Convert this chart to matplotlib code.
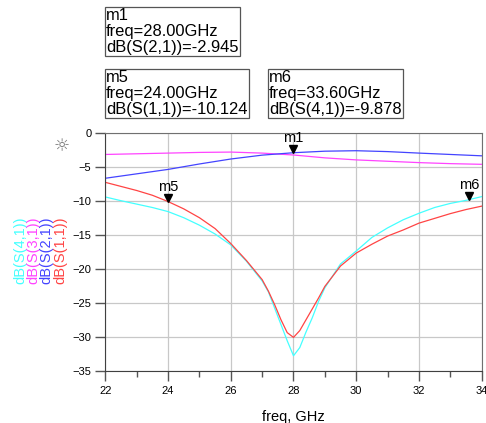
import numpy as np
import matplotlib
matplotlib.use("Agg")
import matplotlib.pyplot as plt
import matplotlib.transforms as mtransforms

plt.rcParams['font.family'] = ['Liberation Sans', 'DejaVu Sans']

# dados
freq_top = [22, 23, 24, 25, 26, 27, 28, 29, 30, 31, 32, 33, 34]
s21 = [-6.7, -6.05, -5.4, -4.6, -3.87, -3.3, -2.945, -2.72, -2.65, -2.78, -3.0, -3.2, -3.4]
s31 = [-3.2, -3.1, -3.0, -2.9, -2.85, -3.0, -3.28, -3.7, -4.0, -4.2, -4.4, -4.55, -4.65]

freq = [22, 22.5, 23, 23.5, 24, 24.5, 25, 25.5, 26, 26.5, 27, 27.2, 27.4, 27.6, 27.8,
        28, 28.2, 28.4, 28.6, 28.8, 29, 29.5, 30, 30.5, 31, 31.5, 32, 32.5, 33, 33.5, 34]
s11 = [-7.3, -7.9, -8.5, -9.2, -10.124, -11.2, -12.5, -14.1, -16.3, -18.8, -21.6, -23.3,
       -25.3, -27.5, -29.4, -30.1, -29.1, -27.5, -25.9, -24.3, -22.6, -19.6, -17.7,
       -16.4, -15.2, -14.3, -13.3, -12.6, -11.9, -11.3, -10.8]
s41 = [-9.45, -10.0, -10.5, -11.0, -11.6, -12.5, -13.6, -14.9, -16.5, -18.9, -21.8, -23.4,
       -25.8, -28.2, -30.6, -32.8, -31.6, -29.3, -27.2, -24.8, -22.8, -19.3, -17.4,
       -15.4, -14.0, -12.8, -11.85, -11.0, -10.4, -9.95, -9.4]

# marcadores: nome, freq, valor, texto
marcadores = [
    ("m1", 28.0, -2.945, "m1\nfreq=28.00GHz\ndB(S(2,1))=-2.945"),
    ("m5", 24.0, -10.124, "m5\nfreq=24.00GHz\ndB(S(1,1))=-10.124"),
    ("m6", 33.6, -9.878, "m6\nfreq=33.60GHz\ndB(S(4,1))=-9.878"),
]

fig = plt.figure(figsize=(4.86, 4.23), dpi=100)
ax = fig.add_axes([0.2167, 0.1236, 0.7744, 0.5627])

ax.plot(freq, s41, color='#44ffff', lw=0.9)
ax.plot(freq_top, s31, color='#ff44ff', lw=0.9)
ax.plot(freq_top, s21, color='#4444ff', lw=0.9)
ax.plot(freq, s11, color='#ff4444', lw=0.9)

ax.set_xlim(22, 34)
ax.set_ylim(-35, 0)
ax.set_xticks(np.arange(22, 35, 2))
ax.set_xticks(np.arange(23, 34, 2), minor=True)
ax.set_yticks(np.arange(-35, 1, 5))
ax.grid(True, which='major', color='#c8c8c8', lw=0.9)
ax.tick_params(which='major', direction='out', length=7, width=1, color='#555555',
               labelsize=8, pad=3)
ax.tick_params(which='minor', direction='out', length=4, width=1, color='#555555')
ax.tick_params(axis='x', pad=4)
for s in ax.spines.values():
    s.set_color('#707070')
for s in ['left', 'bottom']:
    ax.spines[s].set_color('#404040')

ax.set_xlabel("freq, GHz", fontsize=10.5, labelpad=10)

# rotulos do eixo y coloridos
cores = ['#44ffff', '#ff44ff', '#4444ff', '#ff4444']
rotulos = ['dB(S(4,1))', 'dB(S(3,1))', 'dB(S(2,1))', 'dB(S(1,1))']
for i in range(4):
    fig.text((20 + 13.3 * i) / 486, 1 - 250 / 423, rotulos[i], color=cores[i],
             rotation=90, ha='center', va='center', fontsize=10.5)

fig.text(62 / 486, 1 - 146 / 423, "\u263c", color='#777777', ha='center', va='center',
         fontsize=13, family='DejaVu Sans')

# marcadores no grafico
for nome, f, v, txt in marcadores:
    tri = mtransforms.offset_copy(ax.transData, fig=fig, x=0, y=4, units='dots')
    ax.plot([f], [v], marker='v', color='black', ms=6, transform=tri, clip_on=False)
    ax.annotate(nome, (f, v), xytext=(0, 8), textcoords='offset pixels',
                ha='center', va='bottom', fontsize=10.5, annotation_clip=False)

# caixas de texto dos marcadores
caixas = [(106, 8), (106, 70), (269, 70)]
for (nome, f, v, txt), (x, y) in zip(marcadores, caixas):
    fig.text(x / 486, 1 - y / 423, txt, ha='left', va='top', fontsize=11.9,
             linespacing=1.08,
             bbox=dict(boxstyle='square,pad=0.08', fc='white', ec='#555555', lw=0.9))

fig.savefig("out.png", dpi=100)
